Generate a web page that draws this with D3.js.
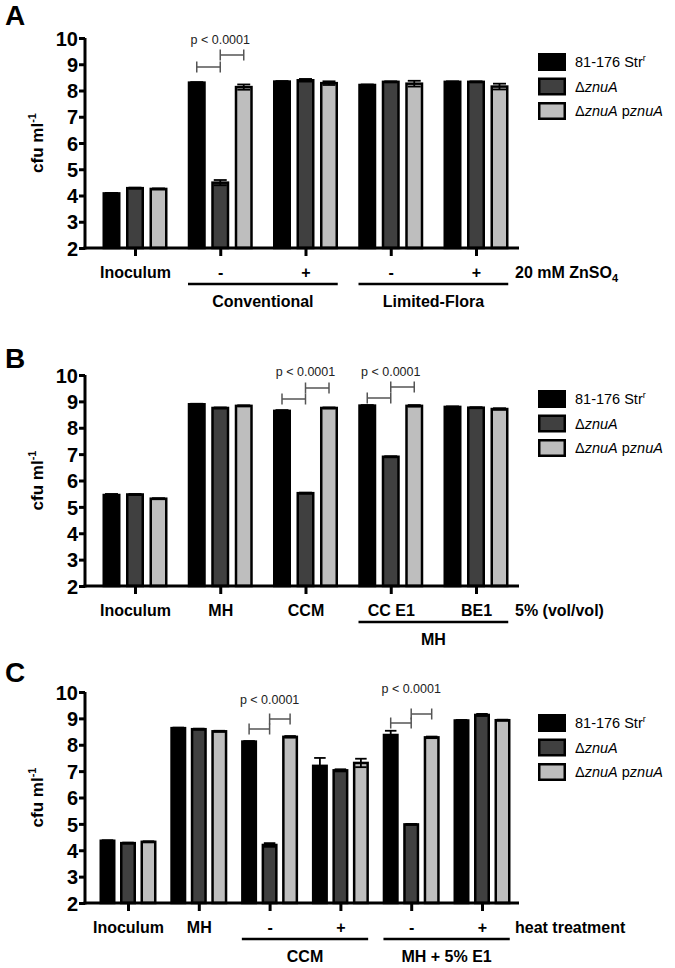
<!DOCTYPE html>
<html><head><meta charset="utf-8">
<script src="https://cdn.jsdelivr.net/npm/d3@7/dist/d3.min.js"></script>
<style>
body{margin:0;background:#fff}
svg text{font-family:"Liberation Sans",Arial,sans-serif}
</style>
</head><body>
<svg id="chart" width="675" height="968"></svg>
<script>
// ---------- data ----------
const seriesKeys = ["wt", "mut", "comp"];
const seriesColors = ["#000000", "#404040", "#bebebe"];
const yTickValues = [2, 3, 4, 5, 6, 7, 8, 9, 10];

// Panel A
const catsA = ["Inoculum", "-", "+", "-", "+"];
const wtA   = [4.08, 8.30, 8.34, 8.21, 8.33];
const mutA  = [4.28, 4.49, 8.39, 8.33, 8.33];
const compA = [4.25, 8.13, 8.28, 8.26, 8.15];
const errWtA   = [0.02, 0.02, 0.02, 0.02, 0.02];
const errMutA  = [0.02, 0.10, 0.05, 0.02, 0.02];
const errCompA = [0.02, 0.10, 0.07, 0.11, 0.11];

// Panel B
const catsB = ["Inoculum", "MH", "CCM", "CC E1", "BE1"];
const wtB   = [5.45, 8.89, 8.64, 8.84, 8.79];
const mutB  = [5.47, 8.75, 5.52, 6.90, 8.76];
const compB = [5.31, 8.83, 8.75, 8.83, 8.71];
const errWtB   = [0.04, 0.02, 0.03, 0.02, 0.02];
const errMutB  = [0.02, 0.02, 0.02, 0.02, 0.02];
const errCompB = [0.02, 0.02, 0.02, 0.03, 0.03];

// Panel C
const catsC = ["Inoculum", "MH", "-", "+", "-", "+"];
const wtC   = [4.36, 8.63, 8.12, 7.20, 8.37, 8.92];
const mutC  = [4.27, 8.59, 4.20, 7.03, 4.98, 9.13];
const compC = [4.32, 8.51, 8.30, 7.31, 8.28, 8.93];
const errWtC   = [0.02, 0.02, 0.02, 0.30, 0.16, 0.02];
const errMutC  = [0.02, 0.02, 0.07, 0.04, 0.02, 0.04];
const errCompC = [0.02, 0.02, 0.03, 0.16, 0.03, 0.02];

const legendLabels = ["81-176 Str", "ΔznuA", "ΔznuA pznuA"];
const pText = "p < 0.0001";

// ---------- layout config ----------
const panels = [
  { letter: "A", letterY: 25, yTop: 38, yBot: 248, cats: catsA, xRange: [135, 476], subHalf: 35.25, subPad: 0.234,
    vals: [wtA, mutA, compA], errs: [errWtA, errMutA, errCompA],
    cond: ["20 mM ZnSO", "4"], groups: [{label: "Conventional", from: 1, to: 2}, {label: "Limited-Flora", from: 3, to: 4}],
    sig: [{cat: 1, text: 6, right: 17, left: 29}], legendTop: 53 },
  { letter: "B", letterY: 368, yTop: 375, yBot: 586, cats: catsB, xRange: [135, 476], subHalf: 35.25, subPad: 0.234,
    vals: [wtB, mutB, compB], errs: [errWtB, errMutB, errCompB],
    cond: ["5% (vol/vol)", ""], groups: [{label: "MH", from: 3, to: 4}],
    sig: [{cat: 2, text: 1, right: 13, left: 24}, {cat: 3, text: 1, right: 12, left: 23}], legendTop: 390 },
  { letter: "C", letterY: 682, yTop: 692, yBot: 903, cats: catsC, xRange: [128, 482], subHalf: 30.75, subPad: 0.22,
    vals: [wtC, mutC, compC], errs: [errWtC, errMutC, errCompC],
    cond: ["heat treatment", ""], groups: [{label: "CCM", from: 2, to: 3}, {label: "MH + 5% E1", from: 4, to: 5}],
    sig: [{cat: 2, text: 12, right: 27, left: 37}, {cat: 4, text: 1, right: 22, left: 31}], legendTop: 714 }
];

const svg = d3.select("#chart");
const axisX0 = 85, axisX1 = 519;

panels.forEach(p => {
  const g = svg.append("g");
  const y = d3.scaleLinear().domain([2, 10]).range([p.yBot, p.yTop]);
  const x = d3.scalePoint().domain(d3.range(p.cats.length)).range(p.xRange);
  const sub = d3.scaleBand().domain(seriesKeys).range([-p.subHalf, p.subHalf])
    .paddingInner(p.subPad).paddingOuter(p.subPad / 2);
  const bw = sub.bandwidth();

  // panel letter
  g.append("text").attr("x", 5).attr("y", p.letterY).attr("font-size", 28).attr("font-weight", "bold").text(p.letter);

  // bars
  seriesKeys.forEach((k, si) => {
    const vals = p.vals[si], errs = p.errs[si];
    g.selectAll(null).data(vals).join("rect")
      .attr("x", (d, i) => x(i) + sub(k) + 1.25)
      .attr("y", d => y(d))
      .attr("width", bw - 2.5)
      .attr("height", d => y(2) - y(d))
      .attr("fill", seriesColors[si])
      .attr("stroke", "#000").attr("stroke-width", 2.5);
    // error bars
    const eg = g.append("g").attr("stroke", "#000").attr("stroke-width", 1.8);
    vals.forEach((v, i) => {
      const cx = x(i) + sub(k) + bw / 2;
      const cw = bw * 0.36;
      eg.append("line").attr("x1", cx).attr("x2", cx).attr("y1", y(v - errs[i])).attr("y2", y(v + errs[i]));
      eg.append("line").attr("x1", cx - cw).attr("x2", cx + cw).attr("y1", y(v + errs[i])).attr("y2", y(v + errs[i]));
      eg.append("line").attr("x1", cx - cw).attr("x2", cx + cw).attr("y1", y(v - errs[i])).attr("y2", y(v - errs[i]));
    });
  });

  // y axis
  const ya = g.append("g").attr("transform", `translate(${axisX0},0)`)
    .call(d3.axisLeft(y).tickValues(yTickValues).tickFormat(d3.format("d")).tickSize(6).tickSizeOuter(0).tickPadding(1));
  ya.selectAll("path,line").attr("stroke", "#000").attr("stroke-width", 3);
  ya.select(".domain").attr("d", `M0,${p.yBot + 1.5}V${p.yTop}`);
  ya.selectAll("text").attr("font-size", 20).attr("font-weight", "bold").attr("fill", "#000")
    .attr("font-family", '"Liberation Sans",Arial,sans-serif').attr("dy", "0.36em");

  // x axis
  g.append("line").attr("x1", axisX0 - 1.5).attr("x2", axisX1).attr("y1", p.yBot).attr("y2", p.yBot)
    .attr("stroke", "#000").attr("stroke-width", 3);
  const xa = g.append("g").attr("transform", `translate(0,${p.yBot})`)
    .call(d3.axisBottom(x).tickSize(8).tickFormat(i => p.cats[i]).tickPadding(14));
  xa.select(".domain").remove();
  xa.selectAll("line").attr("stroke", "#000").attr("stroke-width", 3);
  xa.selectAll("text").attr("font-size", 16).attr("font-weight", "bold").attr("fill", "#000")
    .attr("font-family", '"Liberation Sans",Arial,sans-serif')
    .attr("dy", null).attr("y", 30);

  // condition label
  const ct = g.append("text").attr("x", 515).attr("y", p.yBot + 30).attr("font-size", 16).attr("font-weight", "bold");
  ct.append("tspan").text(p.cond[0]);
  if (p.cond[1]) ct.append("tspan").attr("dy", 4).attr("font-size", 11).text(p.cond[1]);

  // group underlines
  p.groups.forEach(gr => {
    const xl = x(gr.from) - p.subHalf + 3, xr = x(gr.to) + p.subHalf - 3;
    g.append("line").attr("x1", xl).attr("x2", xr).attr("y1", p.yBot + 36).attr("y2", p.yBot + 36)
      .attr("stroke", "#000").attr("stroke-width", 2.5);
    g.append("text").attr("x", (xl + xr) / 2).attr("y", p.yBot + 59).attr("text-anchor", "middle")
      .attr("font-size", 16).attr("font-weight", "bold").text(gr.label);
  });

  // y title
  const yt = g.append("text").attr("transform", `translate(43,${(p.yTop + p.yBot) / 2}) rotate(-90)`)
    .attr("text-anchor", "middle").attr("font-size", 17).attr("font-weight", "bold");
  yt.append("tspan").text("cfu ml");
  yt.append("tspan").attr("dy", -7).attr("font-size", 11).text("-1");

  // significance brackets
  p.sig.forEach(s => {
    const c0 = x(s.cat) + sub("wt") + bw / 2, c1 = x(s.cat) + sub("mut") + bw / 2, c2 = x(s.cat) + sub("comp") + bw / 2;
    const bg = g.append("g").attr("stroke", "#555").attr("stroke-width", 1.5);
    const br = (xa_, xb_, yy) => {
      bg.append("line").attr("x1", xa_).attr("x2", xb_).attr("y1", yy).attr("y2", yy);
      bg.append("line").attr("x1", xa_).attr("x2", xa_).attr("y1", yy - 5.5).attr("y2", yy + 5.5);
      bg.append("line").attr("x1", xb_).attr("x2", xb_).attr("y1", yy - 5.5).attr("y2", yy + 5.5);
    };
    br(c0, c1, p.yTop + s.left);
    br(c1, c2, p.yTop + s.right);
    g.append("text").attr("x", x(s.cat)).attr("y", p.yTop + s.text).attr("text-anchor", "middle")
      .attr("font-size", 12.5).attr("fill", "#222").text(pText);
  });

  // legend
  const lg = g.append("g").attr("transform", `translate(538,${p.legendTop})`);
  seriesKeys.forEach((k, si) => {
    const row = lg.append("g").attr("transform", `translate(0,${si * 24.5})`);
    row.append("rect").attr("x", 1.25).attr("y", 1.25).attr("width", 25.5).attr("height", 15.5)
      .attr("fill", seriesColors[si]).attr("stroke", "#000").attr("stroke-width", 2.5);
    const t = row.append("text").attr("x", 37).attr("y", 14).attr("font-size", 14.5);
    if (si === 0) {
      t.append("tspan").text("81-176 Str");
      t.append("tspan").attr("dy", -6).attr("font-size", 9).text("r");
    } else if (si === 1) {
      t.append("tspan").text("Δ");
      t.append("tspan").attr("font-style", "italic").text("znuA");
    } else {
      t.append("tspan").text("Δ");
      t.append("tspan").attr("font-style", "italic").text("znuA");
      t.append("tspan").text(" p");
      t.append("tspan").attr("font-style", "italic").text("znuA");
    }
  });
});
</script>
</body></html>
